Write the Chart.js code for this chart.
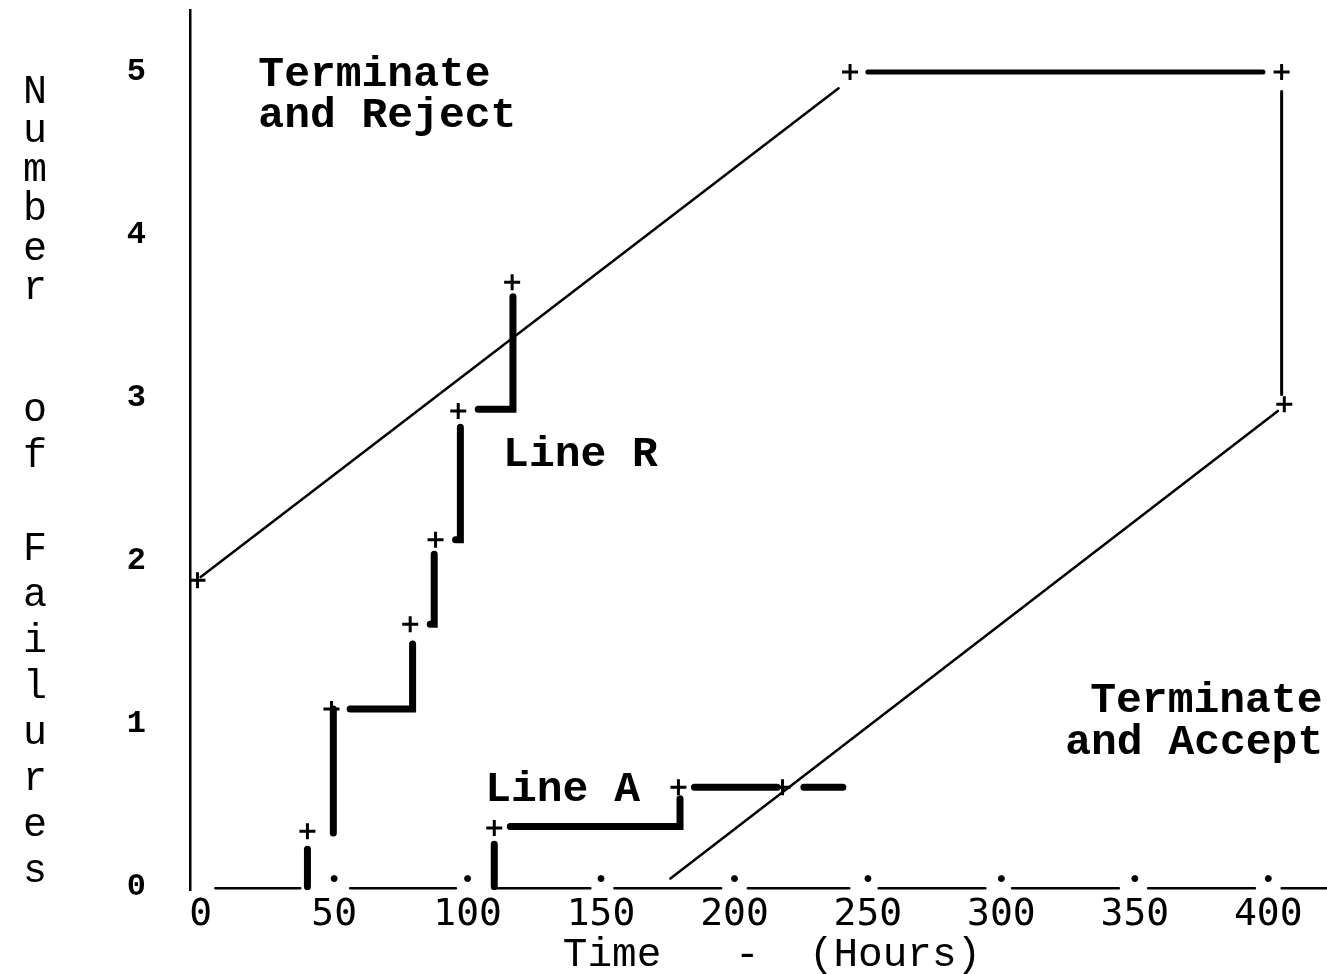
<!DOCTYPE html>
<html>
<head>
<meta charset="utf-8">
<script src="https://cdn.jsdelivr.net/npm/chart.js@4.4.0/dist/chart.umd.min.js"></script>
<style>
  html, body { margin: 0; padding: 0; background: #fff; }
  #wrap { width: 1327px; height: 974px; position: relative; }
</style>
</head>
<body>
<div id="wrap"><canvas id="chart"></canvas></div>
<script>
// time in hours on x, cumulative number of failures on y
const xTicks = [0, 50, 100, 150, 200, 250, 300, 350, 400];
const yTicks = [0, 1, 2, 3, 4, 5];

// decision boundaries
const lineR = [[0, 1.9], [239, 4.9]];
const rejectCap = [[250, 5], [398, 5]];
const truncation = [[405, 4.88], [405, 3.02]];
const lineA = [[176, 0.05], [403.6, 2.92]];

// observed failure paths (each inner list is one pen stroke)
const stepsR = [
  [[40, 0], [40, 0.23]],
  [[49.7, 0.33], [49.7, 1.09]],
  [[56, 1.09], [79.4, 1.09], [79.4, 1.49]],
  [[86, 1.61], [87.5, 1.61], [87.5, 2.04]],
  [[95.5, 2.13], [97.3, 2.13], [97.3, 2.82]],
  [[104, 2.93], [117, 2.93], [117, 3.62]]
];
const stepsA = [
  [[110, 0], [110, 0.26]],
  [[116, 0.37], [179.6, 0.37], [179.6, 0.54]],
  [[185, 0.61], [216, 0.61]],
  [[226, 0.61], [240.6, 0.61]]
];

const crossesR = [[40, 0.34], [49, 1.09], [78.5, 1.61], [88, 2.13], [96.5, 2.92], [116.7, 3.71]];
const crossesA = [[110, 0.36], [179, 0.61], [218, 0.61]];
const crossesBound = [[-1.2, 1.88], [243.3, 5], [405, 5], [406, 2.96]];

// broken time axis line and the small tick dots
const baselineSegs = [[5.5, 37.3], [56, 95.6], [111, 146], [155, 195], [205, 243], [254, 294], [304, 344], [355, 395], [405, 422]];
const tickDots = [50, 100, 150, 200, 250, 300, 350, 400];

function strokes(list) {
  const out = [];
  list.forEach((s, i) => {
    if (i) out.push({ x: s[0][0], y: null });
    s.forEach(p => out.push({ x: p[0], y: p[1] }));
  });
  return out;
}
const pts = arr => arr.map(p => ({ x: p[0], y: p[1] }));

const line = (data, width) => ({
  data: data,
  showLine: true,
  borderColor: "#000",
  borderWidth: width,
  borderCapStyle: "round",
  pointRadius: 0,
  spanGaps: false
});

const mono = "'Liberation Mono', 'Courier New', monospace";

const textPlugin = {
  id: "texts",
  afterDraw(chart) {
    const ctx = chart.ctx;
    const xs = chart.scales.x, ys = chart.scales.y;
    ctx.save();
    ctx.fillStyle = "#000";
    ctx.font = "bold 43px " + mono;
    ctx.textBaseline = "middle";
    ctx.textAlign = "left";
    const put = (t, hx, vy) => ctx.fillText(t, xs.getPixelForValue(hx), ys.getPixelForValue(vy));
    put("Terminate", 21.6, 4.98);
    put("and Reject", 21.6, 4.73);
    put("Line R", 113.3, 2.65);
    put("Line A", 106.6, 0.59);
    put("Terminate", 333.3, 1.14);
    put("and Accept", 323.9, 0.88);

    // y title, one letter per line
    ctx.font = "40px " + mono;
    ctx.textAlign = "center";
    ctx.textBaseline = "alphabetic";
    const letters = [
      ["N", 103], ["u", 142], ["m", 181], ["b", 220], ["e", 260], ["r", 299],
      ["o", 421], ["f", 467],
      ["F", 560], ["a", 606], ["i", 652], ["l", 698], ["u", 744], ["r", 790], ["e", 836], ["s", 882]
    ];
    letters.forEach(l => ctx.fillText(l[0], 35, l[1]));

    // x title
    ctx.font = "41px " + mono;
    ctx.textBaseline = "middle";
    ctx.fillText("Time   -  (Hours)", 772, 955);
    ctx.restore();
  }
};

new Chart(document.getElementById("chart"), {
  type: "scatter",
  data: {
    datasets: [
      line(baselineSegs.reduce((acc, s, i) => {
        if (i) acc.push({ x: s[0], y: null });
        acc.push({ x: s[0], y: -0.01 }, { x: s[1], y: -0.01 });
        return acc;
      }, []), 2.5),
      {
        data: tickDots.map(t => ({ x: t, y: 0.05 })),
        pointRadius: 3,
        pointBackgroundColor: "#000",
        pointBorderColor: "#000",
        showLine: false
      },
      line(pts(lineR), 2.5),
      line(pts(rejectCap), 5),
      line(pts(truncation), 3),
      line(pts(lineA), 2.5),
      line(strokes(stepsR), 7),
      line(strokes(stepsA), 7),
      {
        data: pts(crossesR.concat(crossesA, crossesBound)),
        pointStyle: "cross",
        pointRadius: 8,
        pointBorderWidth: 3,
        pointBorderColor: "#000",
        showLine: false
      }
    ]
  },
  options: {
    responsive: true,
    maintainAspectRatio: false,
    animation: false,
    layout: { autoPadding: false, padding: { top: 10, right: 0, left: 0, bottom: 0 } },
    plugins: {
      legend: { display: false },
      tooltip: { enabled: false }
    },
    scales: {
      x: {
        type: "linear",
        min: -4,
        max: 422,
        afterBuildTicks: s => { s.ticks = xTicks.map(v => ({ value: v })); },
        afterFit: s => { s.height = 84; },
        grid: { display: false, drawTicks: false },
        border: { display: false },
        ticks: {
          color: "#000",
          padding: 2,
          maxRotation: 0,
          font: { family: "'DejaVu Sans Mono', monospace", size: 38 }
        }
      },
      y: {
        type: "linear",
        min: -0.02,
        max: 5.38,
        afterBuildTicks: s => { s.ticks = yTicks.map(v => ({ value: v })); },
        afterFit: s => {
          s.width = 190;
          s.paddingTop = 0;
          s.paddingBottom = 0;
        },
        grid: { display: false, drawTicks: false },
        border: { display: true, color: "#000", width: 2.5 },
        ticks: {
          color: "#000",
          padding: 44,
          font: { family: mono, size: 32, weight: "bold" }
        }
      }
    }
  },
  plugins: [textPlugin]
});
</script>
</body>
</html>
